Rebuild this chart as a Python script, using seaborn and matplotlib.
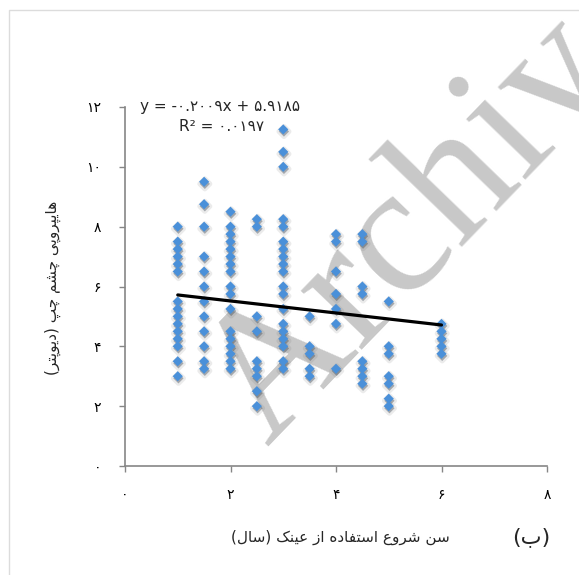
import numpy as np
import pandas as pd
import seaborn as sns
import matplotlib.pyplot as plt
from matplotlib import patheffects
from matplotlib.patches import Rectangle

# age at which glasses were first used (years) and left-eye hyperopia (diopters)
AGE_START = [1.0, 1.5, 2.0, 2.5, 3.0, 3.5, 4.0, 4.5, 5.0, 6.0]
HYPEROPIA_LEFT = [
    [8, 7.5, 7.25, 7, 6.75, 6.5, 5.5, 5.25, 5, 4.75, 4.5, 4.25, 4, 3.5, 3],
    [9.5, 8.75, 8, 7, 6.5, 6, 5.5, 5, 4.5, 4, 3.5, 3.25],
    [8.5, 8, 7.75, 7.5, 7.25, 7, 6.75, 6.5, 6, 5.75, 5.25, 4.5, 4.25, 4, 3.75, 3.5, 3.25],
    [8.25, 8, 5, 4.5, 3.5, 3.25, 3, 2.5, 2],
    [11.25, 10.5, 10, 8.25, 8, 7.5, 7.25, 7, 6.75, 6.5, 6, 5.75, 5.25, 4.75, 4.5, 4.25, 4, 3.5, 3.25],
    [5, 4, 3.75, 3.25, 3],
    [7.75, 7.5, 6.5, 5.75, 5.25, 4.75, 3.25],
    [7.75, 7.5, 6, 5.75, 3.5, 3.25, 3, 2.75],
    [5.5, 4, 3.75, 3, 2.75, 2.25, 2],
    [4.75, 4.5, 4.25, 4, 3.75],
]
SLOPE = -0.2009
INTERCEPT = 5.9185
R_SQUARED = 0.0197

X_TICKS = [0, 2, 4, 6, 8]
Y_TICKS = [0, 2, 4, 6, 8, 10, 12]

X_LABEL = "سن شروع استفاده از عینک (سال)"
Y_LABEL = "هایپروپی چشم چپ (دیوپتر)"
PANEL = "(ب)"
WATERMARK = "Archive"

# matplotlib has no arabic shaping, so pick presentation forms by hand
FORMS = {
    'ا': ('\uFE8D', '\uFE8E'),
    'د': ('\uFEA9', '\uFEAA'),
    'ر': ('\uFEAD', '\uFEAE'),
    'ز': ('\uFEAF', '\uFEB0'),
    'و': ('\uFEED', '\uFEEE'),
    'ب': ('\uFE8F', '\uFE90', '\uFE91', '\uFE92'),
    'پ': ('\uFB56', '\uFB57', '\uFB58', '\uFB59'),
    'ت': ('\uFE95', '\uFE96', '\uFE97', '\uFE98'),
    'چ': ('\uFB7A', '\uFB7B', '\uFB7C', '\uFB7D'),
    'س': ('\uFEB1', '\uFEB2', '\uFEB3', '\uFEB4'),
    'ش': ('\uFEB5', '\uFEB6', '\uFEB7', '\uFEB8'),
    'ع': ('\uFEC9', '\uFECA', '\uFECB', '\uFECC'),
    'ف': ('\uFED1', '\uFED2', '\uFED3', '\uFED4'),
    'ک': ('\uFB8E', '\uFB8F', '\uFB90', '\uFB91'),
    'ل': ('\uFEDD', '\uFEDE', '\uFEDF', '\uFEE0'),
    'م': ('\uFEE1', '\uFEE2', '\uFEE3', '\uFEE4'),
    'ن': ('\uFEE5', '\uFEE6', '\uFEE7', '\uFEE8'),
    'ه': ('\uFEE9', '\uFEEA', '\uFEEB', '\uFEEC'),
    'ی': ('\uFBFC', '\uFBFD', '\uFBFE', '\uFBFF'),
}


def farsi(text):
    out = []
    for i, ch in enumerate(text):
        forms = FORMS.get(ch)
        if forms is None:
            out.append(ch)
            continue
        prev = text[i - 1] if i > 0 else ''
        nxt = text[i + 1] if i + 1 < len(text) else ''
        join_prev = prev in FORMS and len(FORMS[prev]) == 4
        join_next = len(forms) == 4 and nxt in FORMS
        if join_prev and join_next:
            out.append(forms[3])
        elif join_prev:
            out.append(forms[1])
        elif join_next:
            out.append(forms[2])
        else:
            out.append(forms[0])
    mirror = {'(': ')', ')': '('}
    return ''.join(mirror.get(c, c) for c in reversed(out))


def fa_digits(s):
    return s.translate(str.maketrans('0123456789', '۰۱۲۳۴۵۶۷۸۹'))


rows = [(a, v) for a, vals in zip(AGE_START, HYPEROPIA_LEFT) for v in vals]
df = pd.DataFrame(rows, columns=['age', 'hyperopia'])

sns.set_style('white')
plt.rcParams['font.family'] = ['DejaVu Sans']

fig = plt.figure(figsize=(5.79, 5.75), dpi=100)
ax = fig.add_axes([125 / 579, 1 - 466 / 575, 422 / 579, 359 / 575])
ax.set_facecolor('none')

# watermark sits behind the markers but is laid out in figure pixels
ax.text(267 / 579, 1 - 447 / 575, WATERMARK, transform=fig.transFigure, clip_on=False,
        family='Liberation Serif', fontsize=133, color='#c8c8c8',
        rotation=46, rotation_mode='anchor', ha='left', va='baseline', zorder=1)

sns.scatterplot(data=df, x='age', y='hyperopia', marker='D', s=27,
                color='#4A90D9', edgecolor='none', linewidth=0, ax=ax, zorder=2)
ax.collections[0].set_path_effects([
    patheffects.Stroke(linewidth=3.5, foreground='#606060', alpha=0.12, offset=(0.5, -1.5)),
    patheffects.SimplePatchShadow(offset=(0.5, -1.5), shadow_rgbFace='#404040', alpha=0.35),
    patheffects.Normal(),
])

line_df = pd.DataFrame({'age': [df.age.min(), df.age.max()]})
line_df['fit'] = SLOPE * line_df['age'] + INTERCEPT
sns.lineplot(data=line_df, x='age', y='fit', color='black', linewidth=2.3, ax=ax, zorder=4)

ax.set_xlim(0, 8)
ax.set_ylim(0, 12)
ax.set_xticks(X_TICKS)
ax.set_xticklabels([fa_digits(str(t)) for t in X_TICKS])
ax.set_yticks(Y_TICKS)
ax.set_yticklabels([fa_digits(str(t)) for t in Y_TICKS])
ax.tick_params(axis='both', direction='out', length=4, width=1, color='#868686',
               labelsize=10, labelcolor='black', left=True, bottom=True)
ax.tick_params(axis='x', pad=12)
ax.tick_params(axis='y', pad=13)
for side in ['top', 'right']:
    ax.spines[side].set_visible(False)
for side in ['left', 'bottom']:
    ax.spines[side].set_color('#868686')
    ax.spines[side].set_linewidth(1.2)
ax.set_xlabel('')
ax.set_ylabel('')

eq = f"y = {fa_digits(f'{SLOPE:.4f}')}x + {fa_digits(f'{INTERCEPT:.4f}')}"
r2 = f"R² = {fa_digits(f'{R_SQUARED:.4f}')}"
ax.text(1.81, 12.0, eq, ha='center', va='center', fontsize=11, zorder=5)
ax.text(1.83, 11.35, r2, ha='center', va='center', fontsize=11, zorder=5)

fig.text(340 / 579, 1 - 537 / 575, farsi(X_LABEL), ha='center', va='center', fontsize=11)
fig.text(531 / 579, 1 - 537 / 575, farsi(PANEL), ha='center', va='center', fontsize=16)
fig.text(53 / 579, 1 - 288 / 575, farsi(Y_LABEL), ha='center', va='center',
         rotation=90, fontsize=11)

fig.patches.append(Rectangle((9 / 579, -0.1), 1.2, 1.1 - 10 / 575, transform=fig.transFigure,
                             fill=False, edgecolor='#dcdcdc', linewidth=1))

fig.savefig('out.png', dpi=100)
